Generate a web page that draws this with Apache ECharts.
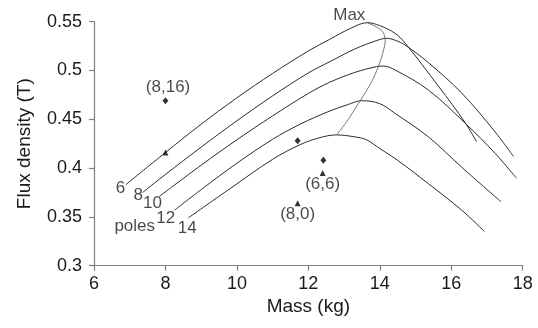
<!DOCTYPE html>
<html>
<head>
<meta charset="utf-8">
<script src="https://cdn.jsdelivr.net/npm/echarts@6/dist/echarts.min.js"></script>
<style>html,body{margin:0;padding:0;background:#fff}#c{width:538px;height:328px}</style>
</head>
<body>
<div id="c"></div>
<script>
// ---- data (mass kg, flux density T) ----
var poles6  = [[6.89,0.383],[8.0,0.416],[9.0,0.445],[10.0,0.472],[11.0,0.497],[12.0,0.520],[12.6,0.532],[13.2,0.5435],[13.65,0.549],[14.0,0.546],[14.43,0.538],[14.71,0.528],[15.64,0.484],[16.39,0.4465],[16.71,0.427]];
var poles8  = [[7.36,0.375],[8.0,0.3935],[9.0,0.4215],[10.0,0.4485],[11.0,0.474],[12.0,0.4975],[12.6,0.509],[13.3,0.522],[13.9,0.5305],[14.19,0.533],[14.43,0.531],[14.71,0.526],[15.36,0.508],[16.29,0.477],[17.23,0.437],[17.74,0.412]];
var poles10 = [[7.83,0.371],[9.0,0.403],[10.0,0.429],[11.0,0.4535],[12.0,0.4765],[12.6,0.488],[13.3,0.498],[13.91,0.504],[14.1,0.5045],[14.43,0.5005],[15.36,0.480],[16.39,0.446],[17.23,0.415],[17.83,0.3895]];
var poles12 = [[8.26,0.357],[9.0,0.378],[10.0,0.405],[11.0,0.4295],[11.77,0.445],[12.6,0.4585],[13.1,0.465],[13.5,0.469],[14.0,0.466],[14.43,0.456],[15.36,0.432],[16.29,0.401],[17.39,0.3656]];
var poles14 = [[8.64,0.349],[9.81,0.379],[11.0,0.409],[11.77,0.424],[12.3,0.431],[12.79,0.434],[13.3,0.432],[13.63,0.429],[14.0,0.420],[14.5,0.408],[15.36,0.384],[16.29,0.357],[16.93,0.335]];
var maxCurve = [[12.79,0.434],[13.1,0.449],[13.45,0.469],[13.75,0.487],[13.97,0.505],[14.1,0.52],[14.15,0.531],[14.05,0.541],[13.65,0.549]];
var diamonds  = [[8.0,0.469],[11.7,0.428],[12.42,0.408]];
var triangles = [[8.0,0.416],[12.4,0.395],[11.7,0.364]];
var poleNames = ['6','8','10','12','14'];
var pointNames = ['(8,16)','(6,6)','(8,0)'];
var xTicks = {min:6, max:18, step:2};
var yTicks = {min:0.3, max:0.55, step:0.05};

var FONT = "'Liberation Sans', Arial, Helvetica, sans-serif";
var TXT = '#1a1a1a';
var AX = '#808080';
var curves = [poles6, poles8, poles10, poles12, poles14];

var series = [];
curves.forEach(function(c){
  series.push({type:'line', data:c, smooth:0.35, showSymbol:false, symbol:'none',
    lineStyle:{color:'#2a2a2a', width:1}, silent:true, z:2});
});
series.push({type:'line', data:maxCurve, smooth:0.35, showSymbol:false, symbol:'none',
  lineStyle:{color:'#555', width:0.8}, silent:true, z:2});
series.push({type:'scatter', data:diamonds, symbol:'diamond', symbolSize:[6,7],
  itemStyle:{color:'#000'}, z:3});
series.push({type:'scatter', data:triangles, symbol:'triangle', symbolSize:[6,6],
  itemStyle:{color:'#000'}, z:3});

// text annotations anchored to the data points
var offs = [[-5.2,3.3],[-4.4,2.7],[-6.8,6.6],[-9,8.3],[-1.1,10]];
var labelData = [];
curves.forEach(function(c,i){
  labelData.push({value:c[0], label:{formatter:poleNames[i], offset:offs[i]}});
});
labelData.push({value:poles12[0], label:{formatter:'poles', offset:[-40,16]}});
labelData.push({value:maxCurve[maxCurve.length-1], label:{formatter:'Max', offset:[-18,-7]}});
labelData.push({value:diamonds[0], label:{formatter:pointNames[0], offset:[2.6,-13]}});
labelData.push({value:triangles[1], label:{formatter:pointNames[1], offset:[0,11.5]}});
labelData.push({value:triangles[2], label:{formatter:pointNames[2], offset:[0,10.7]}});
series.push({type:'scatter', data:labelData, symbol:'circle', symbolSize:1,
  itemStyle:{color:'rgba(0,0,0,0)'}, silent:true, z:4, clip:false,
  label:{show:true, position:'inside', align:'center', verticalAlign:'middle',
    fontSize:17, fontFamily:FONT, color:TXT}});

var chart = echarts.init(document.getElementById('c'), null, {renderer:'canvas'});
chart.setOption({
  animation:false,
  grid:{left:94, right:15.3, top:21.7, bottom:62.3, containLabel:false},
  xAxis:{type:'value', min:xTicks.min, max:xTicks.max, interval:xTicks.step,
    name:'Mass (kg)', nameLocation:'middle', nameGap:31,
    nameTextStyle:{fontSize:19, fontFamily:FONT, color:TXT, verticalAlign:'top'},
    axisLine:{show:true, lineStyle:{color:AX, width:1.2}},
    axisTick:{show:true, inside:false, length:5, lineStyle:{color:AX, width:1.2}},
    axisLabel:{fontSize:18, fontFamily:FONT, color:TXT, margin:9},
    splitLine:{show:false}},
  yAxis:{type:'value', min:yTicks.min, max:yTicks.max, interval:yTicks.step,
    name:'Flux density (T)', nameLocation:'middle', nameGap:60,
    nameTextStyle:{fontSize:19, fontFamily:FONT, color:TXT},
    axisLine:{show:true, lineStyle:{color:AX, width:1.2}},
    axisTick:{show:true, inside:false, length:5, lineStyle:{color:AX, width:1.2}},
    axisLabel:{fontSize:18, fontFamily:FONT, color:TXT, margin:12},
    splitLine:{show:false}},
  series:series
});
</script>
</body>
</html>
